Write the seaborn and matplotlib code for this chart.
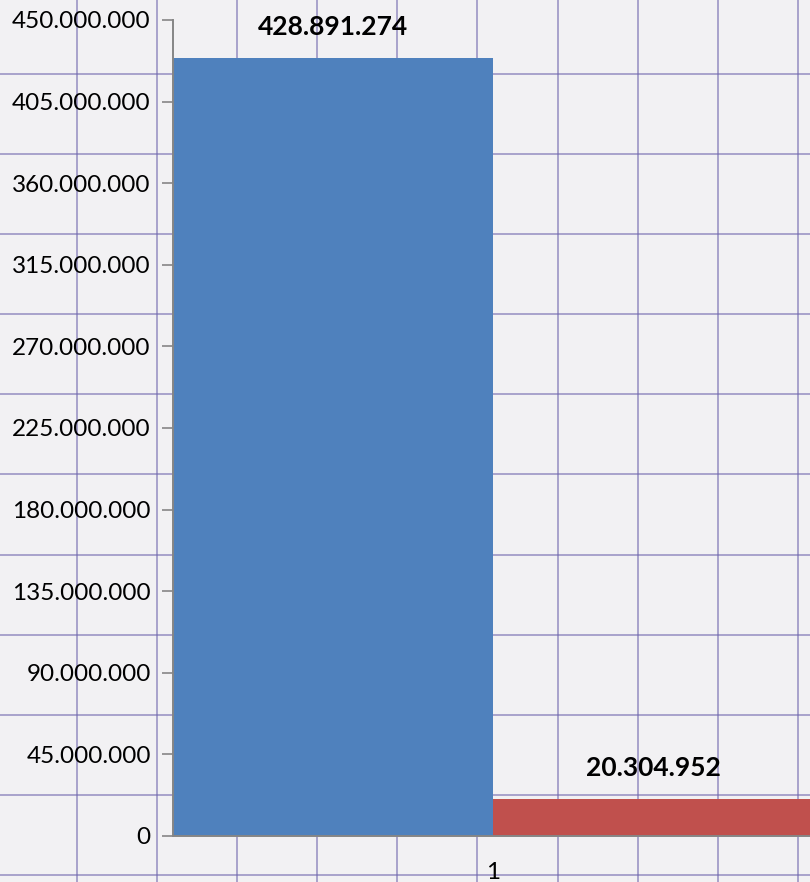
import numpy as np
import pandas as pd
import matplotlib
matplotlib.use("Agg")
import matplotlib.pyplot as plt
import seaborn as sns

# data
categories = ["1", "1"]
series = ["Serie 1", "Serie 2"]
values = [428891274, 20304952]
y_ticks = list(range(0, 450000001, 45000000))
bar_colors = ["#4F81BD", "#C0504D"]


def dotted(n):
    """Format an integer with dots as thousands separator."""
    return f"{n:,}".replace(",", ".")


sns.set_theme(style="white")
plt.rcParams["font.family"] = ["Lato", "DejaVu Sans"]

df = pd.DataFrame({"cat": categories, "series": series, "value": values})

fig = plt.figure(figsize=(8.10, 8.82), dpi=100)
fig.patch.set_facecolor("#f2f1f3")

# graph-paper background
bg = fig.add_axes([0, 0, 1, 1], zorder=-5)
bg.set_xlim(0, 810)
bg.set_ylim(882, 0)
bg.set_xticks(np.arange(76.5, 810, 80.2))
bg.set_yticks(np.arange(73.5, 882, 80.2))
bg.grid(True, color="#6f64ad", linewidth=1.3, alpha=0.6)
bg.tick_params(length=0, labelbottom=False, labelleft=False)
bg.set_facecolor("#f2f1f3")
for s in bg.spines.values():
    s.set_visible(False)

ax = fig.add_axes([173 / 810, 1 - 836 / 882, 640 / 810, 816 / 882])
ax.set_facecolor("none")
sns.barplot(data=df, x="cat", y="value", hue="series", palette=bar_colors,
            width=1.0, gap=0, saturation=1, legend=False, ax=ax, zorder=3,
            linewidth=0, edgecolor="none")

for cont, v in zip(ax.containers, values):
    ax.bar_label(cont, labels=[dotted(v)], padding=14, fontsize=19,
                 fontweight="bold", color="black")

ax.set_xlim(-0.5, 0.5)
ax.set_ylim(0, 450000000)
ax.set_yticks(y_ticks)
ax.set_yticklabels([dotted(t) for t in y_ticks], fontsize=17.5, color="black")
ax.tick_params(axis="y", direction="out", length=8, width=1.2, color="#868686",
               left=True, pad=8)
ax.tick_params(axis="x", length=0, labelsize=17.5, labelcolor="black", pad=19)
ax.set_xlabel("")
ax.set_ylabel("")
for side in ["top", "right"]:
    ax.spines[side].set_visible(False)
for side in ["left", "bottom"]:
    ax.spines[side].set_color("#868686")
    ax.spines[side].set_linewidth(1.4)
    ax.spines[side].set_zorder(4)

fig.savefig("out.png", dpi=100, facecolor=fig.get_facecolor())
